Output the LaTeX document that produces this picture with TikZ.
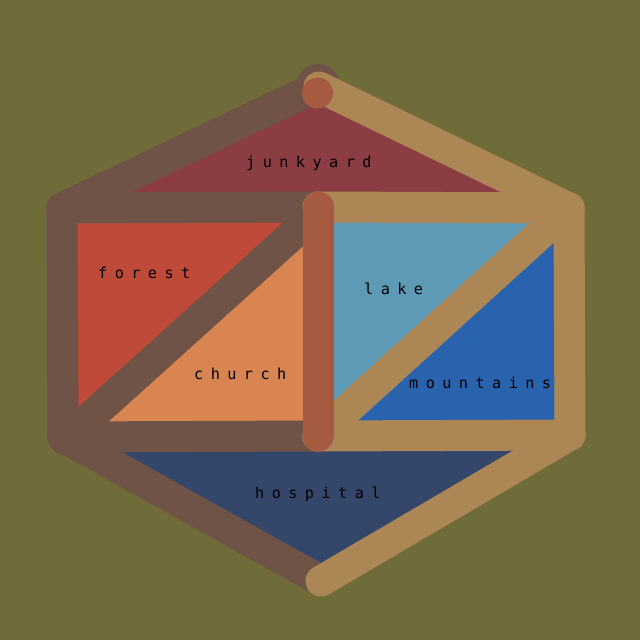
\documentclass[tikz,border=0pt]{standalone}
\usepackage{fontspec}
\newfontfamily\pixfont[LetterSpace=49]{DejaVu Sans Mono}
\definecolor{ground}{RGB}{111,108,58}
\definecolor{brownline}{RGB}{110,83,70}
\definecolor{tanline}{RGB}{173,134,85}
\definecolor{rustline}{RGB}{166,91,64}
\definecolor{junkyard}{RGB}{140,61,67}
\definecolor{forest}{RGB}{192,74,58}
\definecolor{church}{RGB}{216,133,82}
\definecolor{lake}{RGB}{94,154,181}
\definecolor{mountains}{RGB}{42,99,173}
\definecolor{hospital}{RGB}{52,70,106}

\begin{document}
\begin{tikzpicture}[x=1pt,y=-1pt]
\tikzset{edge/.style = {line width=31pt, line cap=round, line join=round},
         place/.style = {inner sep=0pt, anchor=base west, text=black,
                          font=\pixfont\fontsize{15.2}{18}\selectfont}}
\fill[ground] (0,0) rectangle (640,640);
            % vertices
	\coordinate (t) at (318,86);
	\coordinate (tt) at (319,87);
	\coordinate (td) at (317.5,93);
	\coordinate (l1) at (62,208);
	\coordinate (l2) at (63,437);
	\coordinate (c1) at (318,207);
	\coordinate (c2) at (318,436);
	\coordinate (r1) at (569,208);
	\coordinate (r2) at (570,435);
	\coordinate (b) at (316,578);
	\coordinate (bt) at (321,581);
	\coordinate (c1d) at (320,210);
	\coordinate (l2d) at (65,440);
            % regions
	\fill[junkyard] (t) -- (l1) -- (r1) -- cycle;
	\fill[forest] (l1) -- (c1) -- (l2) -- cycle;
	\fill[church] (c1) -- (c2) -- (l2) -- cycle;
	\fill[lake] (c1) -- (r1) -- (c2) -- cycle;
	\fill[mountains] (r1) -- (r2) -- (c2) -- cycle;
	\fill[hospital] (l2) -- (r2) -- (b) -- cycle;
            %edges
	\draw[edge, brownline] (t) -- (l1);
	\draw[edge, brownline] (l1) -- (l2);
	\draw[edge, brownline] (l1) -- (c1);
	\draw[edge, brownline] (c1d) -- (l2d);
	\draw[edge, brownline] (l2) -- (c2);
	\draw[edge, brownline] (l2) -- (b);
	\fill[brownline] (t) circle (22pt);
	\draw[edge, tanline] (tt) -- (r1);
	\draw[edge, tanline] (c1) -- (r1);
	\draw[edge, tanline] (r1) -- (r2);
	\draw[edge, tanline] (r1) -- (c2);
	\draw[edge, tanline] (c2) -- (r2);
	\draw[edge, tanline] (bt) -- (r2);
	\draw[edge, rustline] (c1) -- (c2);
	\fill[rustline] (td) circle (15.5pt);
            % names
	\node[place] (junk) at (246,167) {junkyard};
	\node[place] (fore) at (98,278) {forest};
	\node[place] (chur) at (194,379) {church};
	\node[place] (lak) at (364,294) {lake};
	\node[place] (moun) at (409,388) {mountains};
	\node[place] (hosp) at (255,498) {hospital};
\end{tikzpicture}
\end{document}
